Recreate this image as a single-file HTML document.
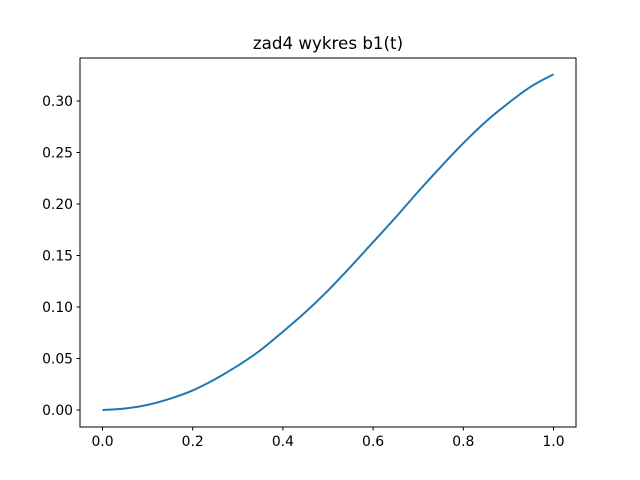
<!DOCTYPE html>
<html><head><meta charset="utf-8"><style>
html,body{margin:0;padding:0;background:#fff;}
svg{display:block;font-family:"DejaVu Sans","Liberation Sans",sans-serif;}
</style></head><body>
<svg id="chart" width="640" height="480">
<rect x="0" y="0" width="640" height="480" fill="#fff"/>
<text x="328" y="49" font-size="16.7" text-anchor="middle" fill="#000">zad4 wykres b1(t)</text>
<g id="xticks"></g>
<g id="yticks"></g>
<path id="line" fill="none" stroke="#1f77b4" stroke-width="2"/>
<rect x="80" y="58" width="496" height="369" fill="none" stroke="#000" stroke-width="1"/>
</svg>
<script>
const tValues = [0,0.05,0.1,0.15,0.2,0.25,0.3,0.35,0.4,0.45,0.5,0.55,0.6,0.65,0.7,0.75,0.8,0.85,0.9,0.95,1.0];
const bValues = [0,0.0015,0.005,0.011,0.019,0.030,0.043,0.058,0.076,0.095,0.116,0.139,0.163,0.187,0.212,0.236,0.259,0.280,0.298,0.314,0.326];
const xTickLabels = ["0.0","0.2","0.4","0.6","0.8","1.0"];
const yTickLabels = ["0.00","0.05","0.10","0.15","0.20","0.25","0.30"];

const NS="http://www.w3.org/2000/svg";
function xs(v){return 102.5+v*451;}
function ys(v){return 410-v*1030;}
const xg=document.getElementById('xticks'), yg=document.getElementById('yticks');
xTickLabels.forEach(l=>{
  const v=parseFloat(l), x=xs(v);
  const t=document.createElementNS(NS,'line');
  t.setAttribute('x1',x);t.setAttribute('x2',x);t.setAttribute('y1',427);t.setAttribute('y2',430.5);t.setAttribute('stroke','#000');
  
  
  xg.appendChild(t);
  const s=document.createElementNS(NS,'text');
  s.setAttribute('x',x);s.setAttribute('y',446);s.setAttribute('font-size','13.9');s.setAttribute('text-anchor','middle');
  s.textContent=l;
  
  
  xg.appendChild(s);
});
yTickLabels.forEach(l=>{
  const v=parseFloat(l), y=ys(v);
  const t=document.createElementNS(NS,'line');
  t.setAttribute('x1',76.5);t.setAttribute('x2',80);t.setAttribute('y1',y);t.setAttribute('y2',y);t.setAttribute('stroke','#000');
  
  
  yg.appendChild(t);
  const s=document.createElementNS(NS,'text');
  s.setAttribute('x',73);s.setAttribute('y',y+5);s.setAttribute('font-size','13.9');s.setAttribute('text-anchor','end');
  s.textContent=l;
  
  
  yg.appendChild(s);
});
const P=tValues.map((t,i)=>[xs(t),ys(bValues[i])]);
let d='M'+P[0][0]+','+P[0][1];
for(let i=0;i<P.length-1;i++){
  const p0=P[Math.max(i-1,0)],p1=P[i],p2=P[i+1],p3=P[Math.min(i+2,P.length-1)];
  const c1=[p1[0]+(p2[0]-p0[0])/6,p1[1]+(p2[1]-p0[1])/6];
  const c2=[p2[0]-(p3[0]-p1[0])/6,p2[1]-(p3[1]-p1[1])/6];
  d+=' C'+c1[0]+','+c1[1]+' '+c2[0]+','+c2[1]+' '+p2[0]+','+p2[1];
}
document.getElementById('line').setAttribute('d',d);
</script>
</body></html>
